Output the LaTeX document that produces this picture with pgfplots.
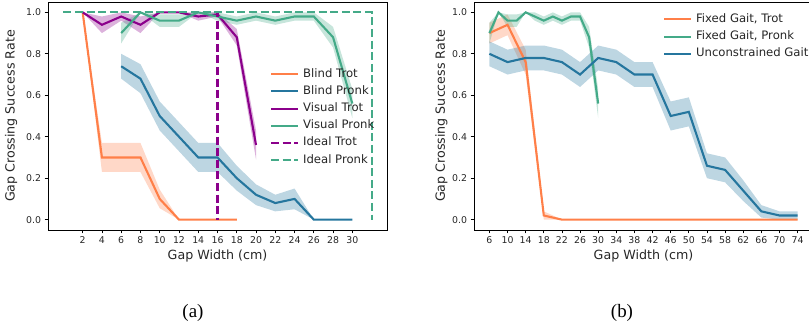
\documentclass[border=0pt]{standalone}
\usepackage{fontspec}
\setmainfont{DejaVu Sans}
\newfontfamily\capfont{Liberation Serif}
\usepackage{pgfplots}
\usepackage{pgfplotstable}
\pgfplotsset{compat=1.18}
\usepgfplotslibrary{fillbetween}

\definecolor{corange}{RGB}{255,127,72}
\definecolor{cblue}{RGB}{37,118,158}
\definecolor{cpurple}{RGB}{139,0,139}
\definecolor{cgreen}{RGB}{68,170,136}

\pgfplotstableread{
x y e
2 1.00 0
4 0.30 0.07
6 0.30 0.07
8 0.30 0.07
10 0.10 0.045
12 0 0
14 0 0
16 0 0
18 0 0
}\btrot
\pgfplotstableread{
x y e
6 0.74 0.06
8 0.68 0.07
10 0.50 0.07
12 0.40 0.07
14 0.30 0.07
16 0.30 0.07
18 0.20 0.06
20 0.12 0.05
22 0.08 0.04
24 0.10 0.05
26 0 0
28 0 0
30 0 0
}\bpronk
\pgfplotstableread{
x y e
2 1.00 0
4 0.94 0.04
6 0.98 0.02
8 0.94 0.04
10 1.00 0
12 1.00 0
14 0.98 0.02
16 0.99 0.01
18 0.88 0.04
20 0.36 0.07
}\vtrot
\pgfplotstableread{
x y e
6 0.90 0.05
8 1.00 0
10 0.96 0.03
12 0.96 0.03
14 1.00 0
16 0.98 0.02
18 0.96 0.02
20 0.98 0.02
22 0.96 0.02
24 0.98 0.02
26 0.98 0.02
28 0.88 0.05
30 0.56 0.07
}\vpronk
\pgfplotstableread{
x y
0 1
16 1
16 0
}\itrot
\pgfplotstableread{
x y
0 1
32 1
32 0
}\ipronk
\pgfplotstableread{
x y e
6 0.90 0.05
10 0.94 0.05
14 0.76 0.06
18 0.02 0.02
22 0 0
26 0 0
30 0 0
34 0 0
38 0 0
42 0 0
46 0 0
50 0 0
54 0 0
58 0 0
62 0 0
66 0 0
70 0 0
74 0 0
}\ftrot
\pgfplotstableread{
x y e
6 0.80 0.06
10 0.76 0.06
14 0.78 0.06
18 0.78 0.06
22 0.76 0.06
26 0.70 0.06
30 0.78 0.06
34 0.76 0.06
38 0.70 0.06
42 0.70 0.06
46 0.50 0.07
50 0.52 0.07
54 0.26 0.06
58 0.24 0.06
62 0.14 0.05
66 0.04 0.03
70 0.02 0.02
74 0.02 0.02
}\ugait

\pgfplotsset{
  common/.style={
    scale only axis, width=339bp, height=228bp,
    anchor=south west,
    ymin=-0.05, ymax=1.05,
    ytick={0,0.2,...,1.0},
    yticklabel style={/pgf/number format/.cd, fixed, fixed zerofill, precision=1},
    /pgf/number format/assume math mode=true,
    tick label style={font=\fontsize{9.4}{11}\selectfont, color=black!85},
    label style={font=\fontsize{12.7}{15}\selectfont, color=black!85},
    tick align=outside, major tick length=3.5bp,
    xtick pos=left, ytick pos=left,
    axis line style={line width=0.8bp, black},
    every tick/.style={black, line width=0.8bp},
    xlabel={Gap Width (cm)},
    ylabel={Gap Crossing Success Rate},
    xlabel style={at={(axis description cs:0.5,-0.114)}, anchor=center},
    legend cell align=left,
    legend style={draw=none, fill=none, inner sep=0pt, outer sep=0pt,
      font=\fontsize{11.7}{13}\selectfont, text=black!85,
      row sep=4.2bp,
      nodes={inner xsep=4bp, inner ysep=1bp, text height=8.5bp, text depth=2.5bp}},
    legend image code/.code={\draw[##1] (0bp,0bp) -- (27bp,0bp);},
  }
}

\begin{document}
\begin{tikzpicture}
\begin{axis}[common, at={(48bp,98bp)},
  xmin=-1.6, xmax=33.6, xtick={2,4,...,30},
  ylabel style={at={(axis description cs:-0.109,0.5)}, anchor=center},
  legend style={at={(axis description cs:0.655,0.712)}, anchor=north west}]
% bands
\addplot[draw=none, forget plot, name path=a1] table[x=x, y expr=\thisrow{y}+\thisrow{e}] {\btrot};
\addplot[draw=none, forget plot, name path=a2] table[x=x, y expr=\thisrow{y}-\thisrow{e}] {\btrot};
\addplot[fill=corange, fill opacity=0.3, draw=none, forget plot] fill between[of=a1 and a2];
\addplot[draw=none, forget plot, name path=b1] table[x=x, y expr=\thisrow{y}+\thisrow{e}] {\bpronk};
\addplot[draw=none, forget plot, name path=b2] table[x=x, y expr=\thisrow{y}-\thisrow{e}] {\bpronk};
\addplot[fill=cblue, fill opacity=0.3, draw=none, forget plot] fill between[of=b1 and b2];
\addplot[draw=none, forget plot, name path=c1] table[x=x, y expr=\thisrow{y}+\thisrow{e}] {\vtrot};
\addplot[draw=none, forget plot, name path=c2] table[x=x, y expr=\thisrow{y}-\thisrow{e}] {\vtrot};
\addplot[fill=cpurple, fill opacity=0.3, draw=none, forget plot] fill between[of=c1 and c2];
\addplot[draw=none, forget plot, name path=d1] table[x=x, y expr=\thisrow{y}+\thisrow{e}] {\vpronk};
\addplot[draw=none, forget plot, name path=d2] table[x=x, y expr=\thisrow{y}-\thisrow{e}] {\vpronk};
\addplot[fill=cgreen, fill opacity=0.3, draw=none, forget plot] fill between[of=d1 and d2];
% lines
\addplot[line width=2.1bp, color=corange] table[x=x, y=y] {\btrot};
\addlegendentry{Blind Trot}
\addplot[line width=2.1bp, color=cblue] table[x=x, y=y] {\bpronk};
\addlegendentry{Blind Pronk}
\addplot[line width=2.1bp, color=cpurple] table[x=x, y=y] {\vtrot};
\addlegendentry{Visual Trot}
\addplot[line width=2.1bp, color=cgreen] table[x=x, y=y] {\vpronk};
\addlegendentry{Visual Pronk}
\addplot[line width=2.1bp, color=cpurple, dash pattern=on 8bp off 3.6bp] table[x=x, y=y] {\itrot};
\addlegendentry{Ideal Trot}
\addplot[line width=2.1bp, color=cgreen, dash pattern=on 8bp off 3.6bp] table[x=x, y=y] {\ipronk};
\addlegendentry{Ideal Pronk}
\end{axis}

\begin{axis}[common, at={(474bp,98bp)},
  xmin=2.6, xmax=77.4, xtick={6,10,...,74},
  ylabel style={at={(axis description cs:-0.096,0.5)}, anchor=center},
  legend style={at={(axis description cs:0.5575,0.952)}, anchor=north west}]
\addplot[draw=none, forget plot, name path=e1] table[x=x, y expr=\thisrow{y}+\thisrow{e}] {\ftrot};
\addplot[draw=none, forget plot, name path=e2] table[x=x, y expr=\thisrow{y}-\thisrow{e}] {\ftrot};
\addplot[fill=corange, fill opacity=0.3, draw=none, forget plot] fill between[of=e1 and e2];
\addplot[draw=none, forget plot, name path=f1] table[x=x, y expr=\thisrow{y}+\thisrow{e}] {\vpronk};
\addplot[draw=none, forget plot, name path=f2] table[x=x, y expr=\thisrow{y}-\thisrow{e}] {\vpronk};
\addplot[fill=cgreen, fill opacity=0.3, draw=none, forget plot] fill between[of=f1 and f2];
\addplot[draw=none, forget plot, name path=g1] table[x=x, y expr=\thisrow{y}+\thisrow{e}] {\ugait};
\addplot[draw=none, forget plot, name path=g2] table[x=x, y expr=\thisrow{y}-\thisrow{e}] {\ugait};
\addplot[fill=cblue, fill opacity=0.3, draw=none, forget plot] fill between[of=g1 and g2];
\addplot[line width=2.1bp, color=corange] table[x=x, y=y] {\ftrot};
\addlegendentry{Fixed Gait, Trot}
\addplot[line width=2.1bp, color=cgreen] table[x=x, y=y] {\vpronk};
\addlegendentry{Fixed Gait, Pronk}
\addplot[line width=2.1bp, color=cblue] table[x=x, y=y] {\ugait};
\addlegendentry{Unconstrained Gait}
\end{axis}

\node[font=\capfont\fontsize{19}{22}\selectfont] at (193bp,15bp) {(a)};
\node[font=\capfont\fontsize{19}{22}\selectfont] at (622bp,15bp) {(b)};
\pgfresetboundingbox
\path[use as bounding box] (0,0) rectangle (809bp,328bp);
\end{tikzpicture}
\end{document}
